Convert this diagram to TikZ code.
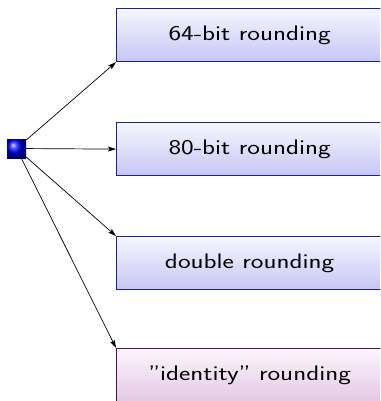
\documentclass[tikz,border=0pt]{standalone}
\usepackage{fontspec}
\usepackage{graphicx}
\usetikzlibrary{arrows.meta}

\definecolor{boxline}{RGB}{30,30,150}
\definecolor{boxtop}{RGB}{246,246,255}
\definecolor{boxbottom}{RGB}{198,198,245}
\definecolor{altline}{RGB}{90,10,80}
\definecolor{alttop}{RGB}{252,246,252}
\definecolor{altbottom}{RGB}{228,200,230}

\tikzset{
  choice/.style={draw=boxline, line width=1.2pt, top color=boxtop, bottom color=boxbottom,
    minimum width=266pt, minimum height=53pt, inner sep=0pt, anchor=north west,
    font=\sffamily\fontsize{21}{24}\selectfont},
  altchoice/.style={choice, draw=altline, top color=alttop, bottom color=altbottom},
  root/.style={rectangle, minimum size=19pt, inner sep=0pt, shading=ball, ball color=blue},
  link/.style={-{Stealth[length=8pt,width=5pt,inset=1.5pt]}, line width=0.7pt, black}
}
\newcommand{\wide}[1]{\scalebox{1.28}[1]{#1}}

\begin{document}
\begin{tikzpicture}[x={(1pt,0)}, y={(0,-1pt)}]
  \path[use as bounding box] (0,0) rectangle (380,401);
  \clip (0,0) rectangle (380,401);

  \node[root] (r) at (16.5,148.5) {};

  \node[choice] (a) at (116,8) {\wide{64-bit rounding}};
  \node[choice] (b) at (116,122) {\wide{80-bit rounding}};
  \node[choice] (c) at (116,236) {\wide{double rounding}};
  \node[altchoice] (d) at (116,348) {\wide{”identity” rounding}};

  \draw[link] (r) -- (a.south west);
  \draw[link] (r) -- (b.west);
  \draw[link] (r) -- (c.north west);
  \draw[link] (r) -- (d.north west);
\end{tikzpicture}
\end{document}
